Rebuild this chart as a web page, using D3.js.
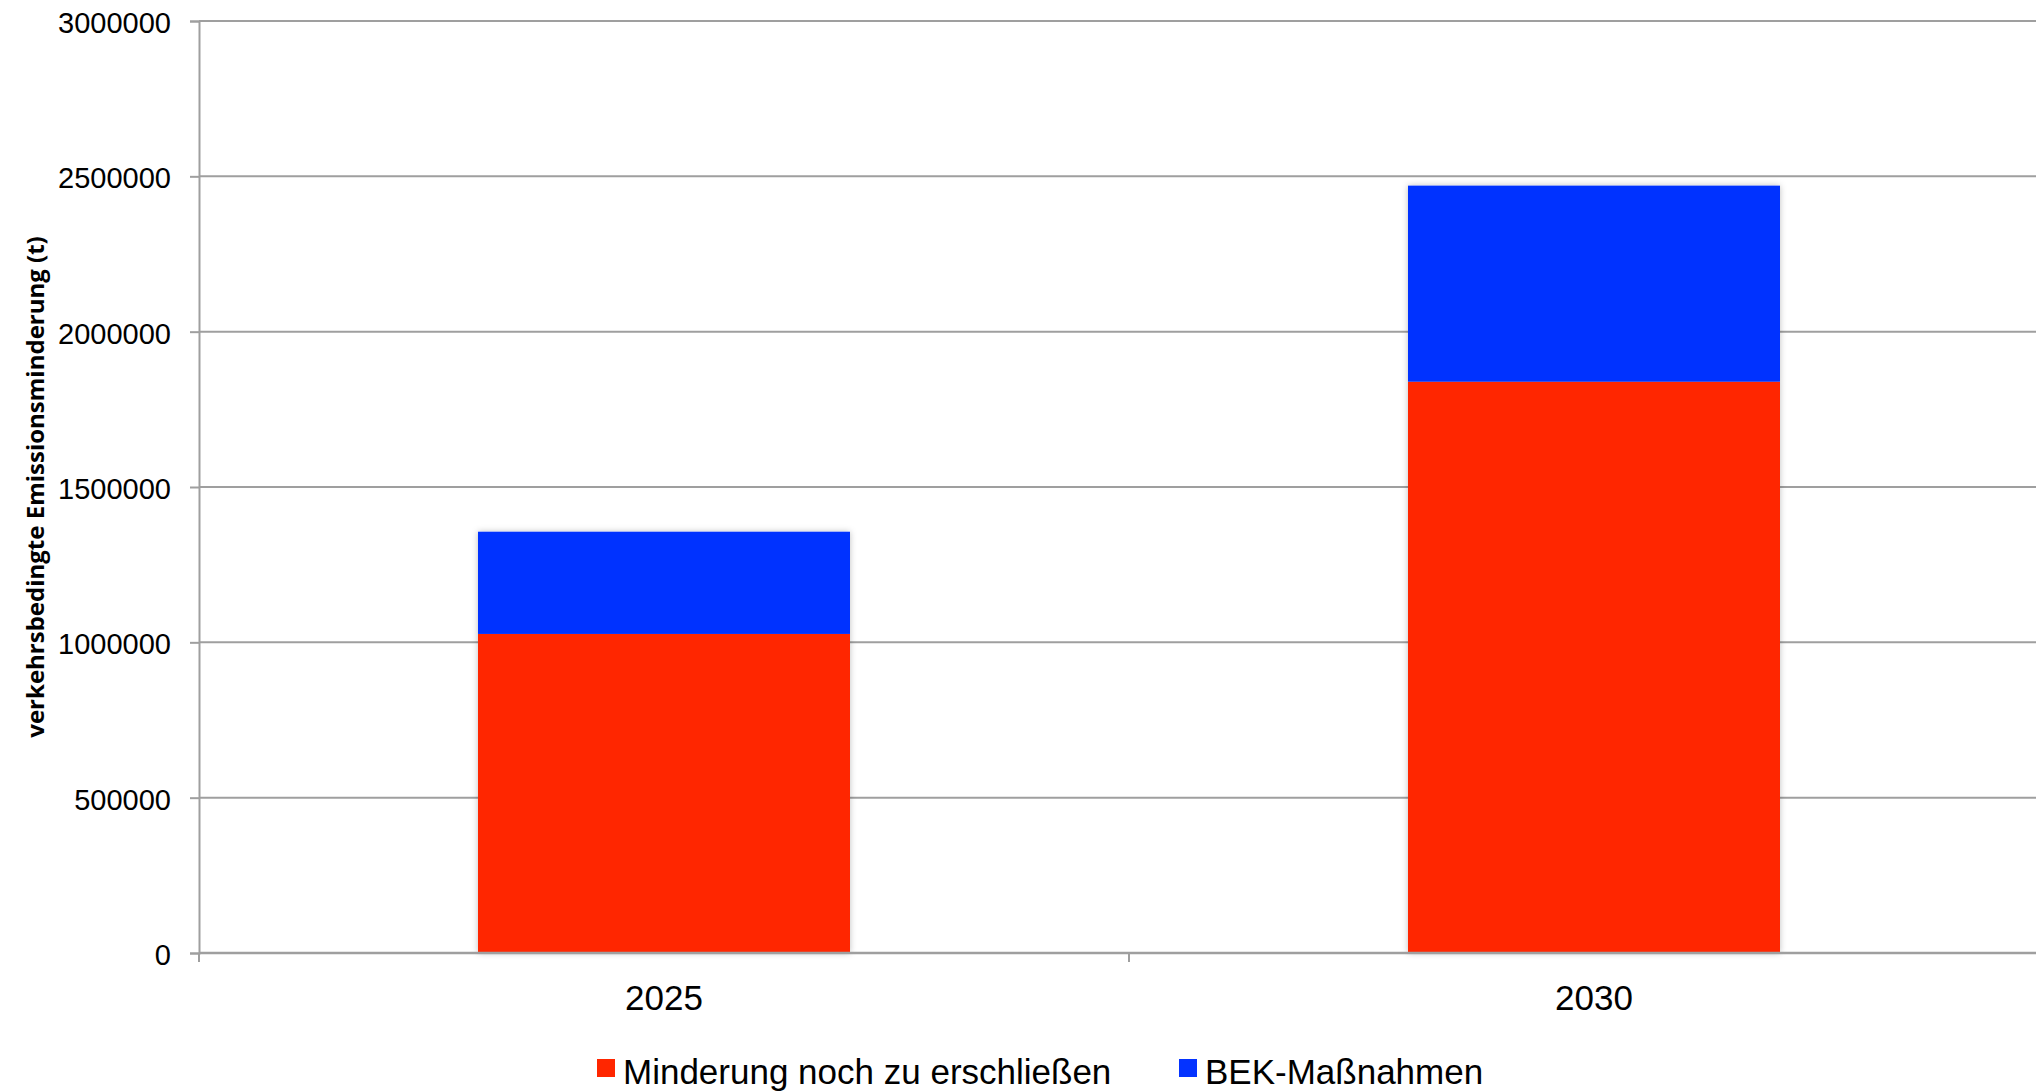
<!DOCTYPE html>
<html>
<head>
<meta charset="utf-8">
<script src="https://cdn.jsdelivr.net/npm/d3@7"></script>
<style>
  body { margin: 0; background: #fff; }
  svg { display: block; }
</style>
</head>
<body>
<div id="chart"></div>
<script>
// data
let years = ['2025', '2030'];
let noch = [1027000, 1839000];   // Minderung noch zu erschließen
let bek = [329000, 631000];      // BEK-Maßnahmen
let yTicks = [0, 500000, 1000000, 1500000, 2000000, 2500000, 3000000];
let seriesNames = ['Minderung noch zu erschließen', 'BEK-Maßnahmen'];
let seriesColors = ['#ff2600', '#0433ff'];

let w = 2036;
let h = 1091;

let svg = d3.select('#chart').
append('svg').
attr('width', w).
attr('height', h);

// soft shadow like the original bars
let defs = svg.append('defs');
let f = defs.append('filter').attr('id', 'shadow').
attr('x', '-5%').attr('y', '-5%').attr('width', '110%').attr('height', '110%');
f.append('feDropShadow').attr('dx', 0).attr('dy', 0).
attr('stdDeviation', 3).attr('flood-color', '#000').attr('flood-opacity', 0.25);

let xScale = d3.scaleBand().
domain(years).
range([199, 2059]).
paddingInner(0.6).
paddingOuter(0.3);

let yScale = d3.scaleLinear().
domain([0, 3000000]).
range([953, 21]);

//gridlines
svg.append('g').
selectAll('line').
data(yTicks.slice(1)).
enter().
append('line').
attr('x1', 199).
attr('x2', 2059).
attr('y1', d => yScale(d)).
attr('y2', d => yScale(d)).
attr('stroke', '#9f9f9f').
attr('stroke-width', 2);

//Y axis
let yAxis = d3.axisLeft(yScale).tickValues(yTicks).tickSize(9).tickPadding(19).tickFormat(d3.format('d'));
let gy = svg.append('g').
attr('transform', 'translate(199,0)').
call(yAxis);
gy.select('.domain').attr('stroke', '#9f9f9f').attr('stroke-width', 2);
gy.selectAll('.tick line').attr('stroke', '#9f9f9f').attr('stroke-width', 2);
gy.selectAll('.tick text').
style('font-family', '"Liberation Sans", Arial, sans-serif').
style('font-size', '29px').
attr('fill', '#000').
attr('dy', '0.4em');

//stacked bars
let stackData = years.map((y, i) => ({year: y, noch: noch[i], bek: bek[i]}));
let stack = d3.stack().keys(['noch', 'bek'])(stackData);

let bars = svg.append('g').attr('filter', 'url(#shadow)');
bars.selectAll('g').
data(stack).
enter().
append('g').
attr('fill', (d, i) => seriesColors[i]).
selectAll('rect').
data(d => d).
enter().
append('rect').
attr('x', d => xScale(d.data.year)).
attr('width', xScale.bandwidth()).
attr('y', d => yScale(d[1])).
attr('height', d => yScale(d[0]) - yScale(d[1]));

//X axis
let boundaries = [199, 199 + xScale.step(), 199 + 2 * xScale.step()];
let gx = svg.append('g');
gx.append('line').
attr('x1', 199).attr('x2', 2059).
attr('y1', 953).attr('y2', 953).
attr('stroke', '#9f9f9f').attr('stroke-width', 2.5);
gx.selectAll('.xt').
data(boundaries).
enter().
append('line').
attr('x1', d => d).attr('x2', d => d).
attr('y1', 953).attr('y2', 962).
attr('stroke', '#9f9f9f').attr('stroke-width', 2);
gx.selectAll('text').
data(years).
enter().
append('text').
attr('x', d => xScale(d) + xScale.bandwidth() / 2).
attr('y', 1010).
attr('text-anchor', 'middle').
style('font-family', '"Liberation Sans", Arial, sans-serif').
style('font-size', '35px').
text(d => d);

//Y axis title
svg.append('text').
attr('transform', 'translate(44,487) rotate(-90)').
attr('text-anchor', 'middle').
style('font-family', '"Open Sans", sans-serif').
style('font-weight', 'bold').
style('font-size', '24px').
text('verkehrsbedingte Emissionsminderung (t)');

//Legend
let legendX = [597, 1179];
let legend = svg.append('g');
let items = legend.selectAll('g').
data(seriesNames).
enter().
append('g').
attr('transform', (d, i) => 'translate(' + legendX[i] + ',1059)');
items.append('rect').
attr('width', 18).
attr('height', 18).
attr('fill', (d, i) => seriesColors[i]);
items.append('text').
attr('x', 26).
attr('y', 25).
style('font-family', '"Liberation Sans", Arial, sans-serif').
style('font-size', '35px').
text(d => d);
</script>
</body>
</html>
